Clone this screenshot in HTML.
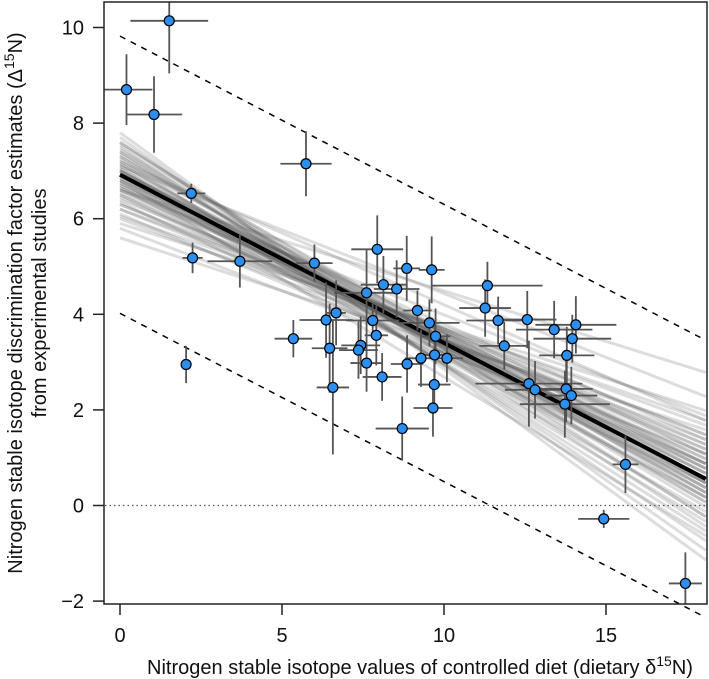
<!DOCTYPE html>
<html><head><meta charset="utf-8"><style>
html,body{margin:0;padding:0;background:#fff;}
svg{display:block;font-family:"Liberation Sans",Arial,sans-serif;}
</style></head><body>
<svg id="chart" width="709" height="679" viewBox="0 0 709 679" xmlns="http://www.w3.org/2000/svg">
<g id="draws"></g>
<g id="lines"></g>
<g id="pts"></g>
<rect x="104" y="2" width="603" height="602" fill="none" stroke="#222" stroke-width="1.5"/>
<g id="axes"></g>
<text x="420" y="674" font-size="20" text-anchor="middle" fill="#111">Nitrogen stable isotope values of controlled diet (dietary δ<tspan dy="-8" font-size="14">15</tspan><tspan dy="8">N)</tspan></text>
<g transform="translate(22,303) rotate(-90)">
<text x="0" y="0" font-size="20" text-anchor="middle" fill="#111">Nitrogen stable isotope discrimination factor estimates (Δ<tspan dy="-8" font-size="14">15</tspan><tspan dy="8">N)</tspan></text>
<text x="0" y="24" font-size="20" text-anchor="middle" fill="#111">from experimental studies</text>
</g>
</svg>
<script>
const xVals=[1.52,0.2,1.05,5.74,2.2,2.24,3.70,6.0,7.94,8.85,9.62,8.13,8.54,7.61,9.18,6.67,6.36,7.80,9.55,9.74,7.91,5.35,6.47,7.43,7.36,9.29,9.71,10.09,7.61,8.86,8.09,9.70,6.57,9.66,8.71,11.34,11.27,11.67,12.57,13.40,14.07,13.96,11.86,13.79,12.62,12.81,13.77,13.93,13.73,15.60,14.93,17.45,2.04];
const yVals=[10.14,8.70,8.18,7.15,6.53,5.18,5.11,5.07,5.36,4.96,4.93,4.62,4.53,4.45,4.08,4.03,3.88,3.87,3.82,3.54,3.56,3.49,3.29,3.35,3.25,3.08,3.15,3.08,2.98,2.96,2.69,2.53,2.47,2.04,1.61,4.60,4.13,3.87,3.89,3.68,3.78,3.49,3.34,3.14,2.55,2.42,2.44,2.30,2.12,0.86,-0.28,-1.63,2.95];
const xErr=[1.2,0.8,0.87,0.79,0.43,0.31,1.0,0.56,0.8,0.41,0.4,0.7,0.7,1.0,0.44,0.3,0.82,0.82,0.93,0.46,0.36,0.58,0.55,0.6,0.6,0.5,0.5,0.5,0.5,0.5,0.6,0.5,0.5,0.6,0.82,1.7,0.8,0.98,0.9,1.18,1.25,1.2,0.77,0.85,1.65,0.93,0.82,0.8,1.39,0.4,0.79,0.51,0];
const yErr=[1.1,0.74,0.8,0.68,0.2,0.32,0.55,0.39,0.71,0.68,0.7,0.6,0.6,0.9,0.42,0.68,0.79,0.35,0.49,0.58,0.63,0.39,0.93,0.6,0.6,0.6,0.6,0.5,0.6,0.6,0.5,0.6,1.4,0.6,0.67,0.5,0.6,0.5,0.6,0.6,0.6,0.5,0.5,0.6,0.9,0.6,0.7,0.6,0.7,0.6,0.19,0.65,0.39];
const drawY0=[5.6,5.8,5.9,6.0,6.1,6.2,6.3,6.35,6.4,6.5,6.55,6.6,6.65,6.7,6.75,6.8,6.85,6.9,6.9,6.95,7.0,7.0,7.05,7.1,7.15,7.2,7.25,7.3,7.35,7.4,7.45,7.5,7.55,7.6,7.7,7.8,6.6,7.1,6.8,7.2,6.45,6.7,6.85,6.95,7.05,7.15,6.6,6.75,7.0,6.9,6.3,7.3,6.5,7.4,6.2,6.05,7.6,6.8,7.0,6.65];
const drawY18=[1.6,1.1,2.0,1.4,0.9,1.7,1.2,0.5,1.5,0.8,1.3,1.9,0.2,1.0,0.6,1.4,-0.1,0.7,0.4,1.1,0.3,0.9,-0.3,0.6,0.1,0.8,-0.5,0.4,0.0,-0.2,0.5,-0.7,0.2,-0.4,-0.9,-1.1,2.8,2.3,-0.6,1.8,0.9,0.7,0.5,0.6,0.4,0.3,1.2,0.8,0.7,0.2,1.5,0.1,1.0,0.3,1.3,1.8,-0.2,0.9,0.5,1.1];
const fitY0=6.92, fitSlope=-0.352, piOffset=2.9;
const xTicks=[0,5,10,15], yTicks=[-2,0,2,4,6,8,10];
const xMax=18.08;
const NS='http://www.w3.org/2000/svg';
function sx(v){return 120+32.4*v;}
function sy(v){return 505.5-47.8*v;}
function mk(tag,attrs,parent){const e=document.createElementNS(NS,tag);for(const k in attrs)e.setAttribute(k,attrs[k]);parent.appendChild(e);return e;}
const gD=document.getElementById('draws'),gL=document.getElementById('lines'),gP=document.getElementById('pts'),gA=document.getElementById('axes');
for(let i=0;i<drawY0.length;i++){
  const y1=drawY0[i]+(drawY18[i]-drawY0[i])*(xMax/18);
  const l=mk('line',{x1:sx(0),y1:sy(drawY0[i]),x2:sx(xMax),y2:sy(y1),stroke:'#555','stroke-opacity':0.2,'stroke-width':3},gD);
  
  
}
const fitL=mk('line',{x1:sx(0),y1:sy(fitY0),x2:sx(xMax),y2:sy(fitY0+fitSlope*xMax),stroke:'#000','stroke-width':4},gL);


[piOffset,-piOffset].forEach(o=>{
  const d=mk('line',{x1:sx(0),y1:sy(fitY0+o),x2:sx(xMax),y2:sy(fitY0+o+fitSlope*xMax),stroke:'#000','stroke-width':1.5,'stroke-dasharray':'6,6'},gL);
  
  
});
const z=mk('line',{x1:105,y1:sy(0),x2:706,y2:sy(0),stroke:'#555','stroke-width':1.2,'stroke-dasharray':'1.5,3'},gL);


const clip=mk('clipPath',{id:'pc'},document.getElementById('chart'));
mk('rect',{x:104,y:2,width:603,height:602},clip);
gP.setAttribute('clip-path','url(#pc)');
gD.setAttribute('clip-path','url(#pc)');
for(let i=0;i<xVals.length;i++){
  const cx=sx(xVals[i]),cy=sy(yVals[i]);
  if(xErr[i]>0){const h=mk('line',{x1:sx(xVals[i]-xErr[i]),y1:cy,x2:sx(xVals[i]+xErr[i]),y2:cy,stroke:'#555','stroke-width':1.8},gP);
  
  }
  const v=mk('line',{x1:cx,y1:sy(yVals[i]-yErr[i]),x2:cx,y2:sy(yVals[i]+yErr[i]),stroke:'#555','stroke-width':1.8},gP);
  
  
}
for(let i=0;i<xVals.length;i++){
  const c=mk('circle',{cx:sx(xVals[i]),cy:sy(yVals[i]),r:5,fill:'#2a8ff0',stroke:'#000','stroke-width':1.2},gP);
  
  
}
xTicks.forEach(t=>{
  const l=mk('line',{x1:sx(t),y1:604,x2:sx(t),y2:615,stroke:'#222','stroke-width':1.5},gA);
  
  
  const tx=mk('text',{x:sx(t),y:642,'font-size':20,'text-anchor':'middle',fill:'#111'},gA);
  tx.textContent=t;
  
  
});
yTicks.forEach(t=>{
  const l=mk('line',{x1:93,y1:sy(t),x2:104,y2:sy(t),stroke:'#222','stroke-width':1.5},gA);
  
  
  const tx=mk('text',{x:84,y:sy(t)+7,'font-size':20,'text-anchor':'end',fill:'#111'},gA);
  tx.textContent=t<0?'\u2212'+Math.abs(t):t;
  
  
});
</script>
</body></html>
